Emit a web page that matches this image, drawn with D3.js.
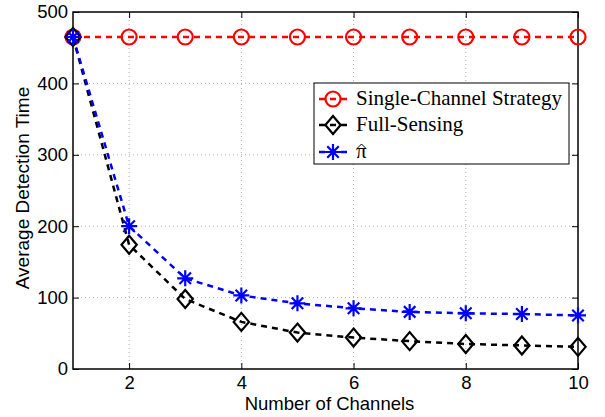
<!DOCTYPE html>
<html><head><meta charset="utf-8">
<script src="https://cdn.jsdelivr.net/npm/d3@7"></script>
<style>body{margin:0;background:#fff}</style>
</head><body>
<svg id="c" width="605" height="417"></svg>
<script>
const channels = [1,2,3,4,5,6,7,8,9,10];
const singleChannel = [465,465,465,465,465,465,465,465,465,465];
const fullSensing = [465,174,98,66,51,44,39,35,33,31];
const piHat = [465,200,127,103,92,85,80,78,77,75];
const xTicks = [2,4,6,8,10];
const yTicks = [0,100,200,300,400,500];
const legendLabels = ["Single-Channel Strategy","Full-Sensing","\u03C0"];

const svg = d3.select("#c");
const L=73, R=578, T=12, B=369;
const x = d3.scaleLinear().domain([1,10]).range([L,R]);
const y = d3.scaleLinear().domain([0,500]).range([B,T]);

// grid
const g = svg.append("g");
g.selectAll(".gx").data(xTicks.filter(d=>d<10)).enter().append("line")
 .attr("x1",d=>x(d)).attr("x2",d=>x(d)).attr("y1",T).attr("y2",B)
 .attr("stroke","#999").attr("stroke-width",0.8).attr("stroke-dasharray","1,3");
g.selectAll(".gy").data(yTicks.filter(d=>d>0&&d<500)).enter().append("line")
 .attr("y1",d=>y(d)).attr("y2",d=>y(d)).attr("x1",L).attr("x2",R)
 .attr("stroke","#999").attr("stroke-width",0.8).attr("stroke-dasharray","1,3");

// axes
const fontSans = "'Liberation Sans', Arial, sans-serif";
const xAxis = d3.axisBottom(x).tickValues(xTicks).tickSize(-6).tickPadding(7);
const yAxis = d3.axisLeft(y).tickValues(yTicks).tickSize(-6).tickPadding(5);
const xa = svg.append("g").attr("transform",`translate(0,${B})`).call(xAxis);
const ya = svg.append("g").attr("transform",`translate(${L},0)`).call(yAxis);
const xt = svg.append("g").attr("transform",`translate(0,${T})`).call(d3.axisTop(x).tickValues(xTicks).tickSize(-6).tickFormat(""));
const yr = svg.append("g").attr("transform",`translate(${R},0)`).call(d3.axisRight(y).tickValues(yTicks).tickSize(-6).tickFormat(""));
[xa,ya,xt,yr].forEach(a=>{
  a.select(".domain").remove();
  a.selectAll("line").attr("stroke","#000").attr("stroke-width",1);
  a.selectAll("text").attr("font-family",fontSans).attr("font-size",18.5).attr("fill","#000");
});
svg.append("rect").attr("x",L).attr("y",T).attr("width",R-L).attr("height",B-T)
 .attr("fill","none").attr("stroke","#000").attr("stroke-width",1.5);

svg.append("text").attr("x",(L+R)/2+4).attr("y",410).attr("text-anchor","middle")
 .attr("font-family",fontSans).attr("font-size",18.5).text("Number of Channels");
svg.append("text").attr("transform",`translate(29,188) rotate(-90)`).attr("text-anchor","middle")
 .attr("font-family",fontSans).attr("font-size",19).text("Average Detection Time");

// markers
function circleM(sel,cx,cy,color){
  sel.append("circle").attr("cx",cx).attr("cy",cy).attr("r",7.5).attr("fill","none").attr("stroke",color).attr("stroke-width",2.2);
}
function diamondM(sel,cx,cy,color){
  const s=9;
  sel.append("path").attr("d",`M${cx},${cy-s}L${cx+s*0.85},${cy}L${cx},${cy+s}L${cx-s*0.85},${cy}Z`)
   .attr("fill","none").attr("stroke",color).attr("stroke-width",2.2);
}
function starM(sel,cx,cy,color){
  const s=8, d=s*0.72;
  sel.append("path").attr("d",`M${cx-s},${cy}L${cx+s},${cy}M${cx},${cy-s}L${cx},${cy+s}M${cx-d},${cy-d}L${cx+d},${cy+d}M${cx-d},${cy+d}L${cx+d},${cy-d}`)
   .attr("stroke",color).attr("stroke-width",2.2);
}
const series = [
  {vals:singleChannel,color:"#ff0000",m:circleM},
  {vals:fullSensing,color:"#000000",m:diamondM},
  {vals:piHat,color:"#0000ff",m:starM}
];
const line = d3.line().x((d,i)=>x(channels[i])).y(d=>y(d));
series.forEach(s=>{
  const sg = svg.append("g");
  sg.append("path").attr("d",line(s.vals)).attr("fill","none").attr("stroke",s.color)
    .attr("stroke-width",2.5).attr("stroke-dasharray","6,5");
  s.vals.forEach((v,i)=>s.m(sg,x(channels[i]),y(v),s.color));
});

// legend
const fontSerif = "'Liberation Serif','Times New Roman',serif";
const lg = svg.append("g");
lg.append("rect").attr("x",314).attr("y",83).attr("width",255).attr("height",81)
  .attr("fill","#fff").attr("stroke","#000").attr("stroke-width",1);
const rowsY=[99,125,152];
series.forEach((s,i)=>{
  lg.append("line").attr("x1",319).attr("x2",347).attr("y1",rowsY[i]).attr("y2",rowsY[i])
   .attr("stroke",s.color).attr("stroke-width",2.5).attr("stroke-dasharray","6,5");
  s.m(lg,333,rowsY[i],s.color);
  lg.append("text").attr("x",356).attr("y",rowsY[i]+6).attr("font-family",fontSerif)
   .attr("font-size",21).text(legendLabels[i]);
});
// hat accent over pi
lg.append("path").attr("d",`M357.5,${rowsY[2]-4}L361.5,${rowsY[2]-8}L365.5,${rowsY[2]-4}`)
  .attr("fill","none").attr("stroke","#000").attr("stroke-width",1);
</script>
</body></html>
